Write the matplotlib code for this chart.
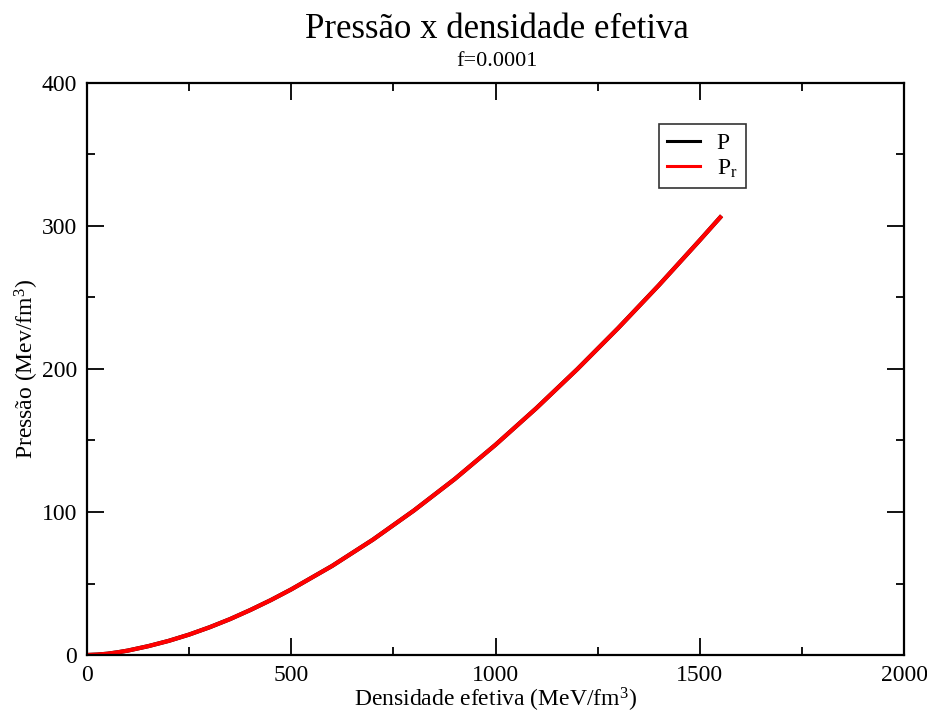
import numpy as np
import matplotlib
matplotlib.use("Agg")
import matplotlib.pyplot as plt
from matplotlib.ticker import MultipleLocator

plt.rcParams["font.family"] = ["Liberation Serif", "DejaVu Serif"]
plt.rcParams["mathtext.fontset"] = "custom"
plt.rcParams["mathtext.rm"] = "Liberation Serif"
plt.rcParams["mathtext.it"] = "Liberation Serif:italic"

# densidade efetiva (MeV/fm^3) and pressao (MeV/fm^3)
dens = [0, 25, 50, 75, 100, 150, 200, 250, 300, 350, 400, 450, 500, 600, 700,
        800, 900, 1000, 1100, 1200, 1300, 1400, 1500, 1550]
p = [0, 0.3, 0.9, 1.9, 3.1, 6.2, 9.9, 14.3, 19.4, 25.1, 31.5, 38.4, 45.9,
     62.3, 80.7, 101.0, 123.0, 147.0, 172.6, 199.8, 228.5, 258.6, 290.0, 306.0]
p_r = [0, 0.3, 0.9, 1.9, 3.1, 6.2, 9.9, 14.3, 19.4, 25.1, 31.5, 38.4, 45.9,
       62.3, 80.7, 101.0, 123.0, 147.0, 172.6, 199.8, 228.5, 258.6, 290.0, 306.0]

fig = plt.figure(figsize=(9.27, 7.15), dpi=100)
ax = fig.add_axes([0.0939, 0.0839, 0.8813, 0.8001])

ax.plot(dens, p, color="black", lw=3, label="P")
ax.plot(dens, p_r, color="red", lw=3, label=r"P$_\mathrm{r}$")

ax.set_xlim(0, 2000)
ax.set_ylim(0, 400)
ax.xaxis.set_major_locator(MultipleLocator(500))
ax.xaxis.set_minor_locator(MultipleLocator(250))
ax.yaxis.set_major_locator(MultipleLocator(100))
ax.yaxis.set_minor_locator(MultipleLocator(50))
ax.tick_params(which="both", direction="in", top=True, right=True, width=1.3, labelsize=17)
ax.tick_params(which="major", length=12, pad=7)
ax.tick_params(which="minor", length=6)
for s in ax.spines.values():
    s.set_linewidth(1.6)

ax.set_xlabel(r"Densidade efetiva (MeV/fm$^\mathrm{3}$)", fontsize=17, labelpad=0)
ax.set_ylabel(r"Pressão (Mev/fm$^\mathrm{3}$)", fontsize=17, labelpad=1)

fig.text(0.536, 0.959, "Pressão x densidade efetiva", ha="center", va="center", fontsize=25)
fig.text(0.536, 0.914, "f=0.0001", ha="center", va="center", fontsize=16)

leg = ax.legend(loc="upper left", bbox_to_anchor=(0.700, 0.928), fontsize=17,
                frameon=True, fancybox=False, handlelength=1.4, borderpad=0.35,
                labelspacing=0.15, handletextpad=0.7, borderaxespad=0)
leg.get_frame().set_edgecolor("black")
leg.get_frame().set_linewidth(1.2)
for line in leg.get_lines():
    line.set_linewidth(2.2)

fig.savefig("out.png", dpi=100, facecolor="white")
